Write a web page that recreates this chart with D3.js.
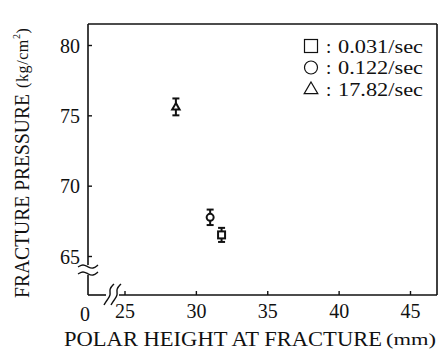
<!DOCTYPE html>
<html>
<head>
<meta charset="utf-8">
<script src="https://cdn.jsdelivr.net/npm/d3@7"></script>
<style>
  body { margin: 0; background: #fff; }
  text { font-family: "Liberation Serif", "DejaVu Serif", serif; fill: #111; }
</style>
</head>
<body>
<div id="chart"></div>
<script>
// ── Data ──
const series = ["square", "circle", "triangle"];
const rates = ["0.031/sec", "0.122/sec", "17.82/sec"];
const polarHeight = [31.8, 31.0, 28.6];
const pressure = [66.5, 67.75, 75.6];
const pressureErr = [0.5, 0.55, 0.6];
const xTicks = [25, 30, 35, 40, 45];
const yTicks = [65, 70, 75, 80];

const width = 447, height = 357;
const frame = { left: 88, right: 437, top: 24, bottom: 295 };

const svg = d3.select("#chart").append("svg")
    .attr("width", width)
    .attr("height", height);

const x = d3.scaleLinear().domain([25, 45]).range([124.5, 410]);
const y = d3.scaleLinear().domain([65, 80]).range([256, 45]);

// ── Frame with axis breaks ──
const line = (x1, y1, x2, y2) => svg.append("line")
    .attr("x1", x1).attr("y1", y1).attr("x2", x2).attr("y2", y2)
    .attr("stroke", "#111").attr("stroke-width", 1.6);

line(frame.left, frame.top, frame.right, frame.top);
line(frame.right, frame.top, frame.right, frame.bottom);
line(frame.left, frame.top, frame.left, 265);
line(frame.left, 275, frame.left, frame.bottom);
line(frame.left, frame.bottom, 106, frame.bottom);
line(119, frame.bottom, frame.right, frame.bottom);

// break marks (wavy)
const wave = d3.line().curve(d3.curveBasis);
[266, 273].forEach(yy => {
    svg.append("path")
        .attr("d", wave([[78, yy + 1], [83, yy - 2], [88, yy + 1], [93, yy + 3], [98, yy - 1]]))
        .attr("fill", "none").attr("stroke", "#111").attr("stroke-width", 1.4);
});
[108, 115].forEach(xx => {
    svg.append("path")
        .attr("d", wave([[xx + 6, 284], [xx + 1, 289], [xx + 3, 295], [xx - 1, 300], [xx - 4, 305]]))
        .attr("fill", "none").attr("stroke", "#111").attr("stroke-width", 1.4);
});

// ── Axes (inward ticks) ──
const xAxis = svg.append("g")
    .attr("transform", `translate(0,${frame.bottom})`)
    .call(d3.axisBottom(x).tickValues(xTicks).tickSize(-4).tickPadding(9));
const yAxis = svg.append("g")
    .attr("transform", `translate(${frame.left},0)`)
    .call(d3.axisLeft(y).tickValues(yTicks).tickSize(-4).tickPadding(8));

[xAxis, yAxis].forEach(g => {
    g.select(".domain").remove();
    g.selectAll(".tick line").attr("stroke", "#111").attr("stroke-width", 1.4);
    g.selectAll(".tick text")
        .attr("font-size", 20)
        .attr("font-family", "Liberation Serif, serif")
        .attr("fill", "#111");
});
yAxis.selectAll(".tick text").attr("dy", "0.35em");

svg.append("text")
    .attr("x", 85).attr("y", 321)
    .attr("text-anchor", "middle")
    .attr("font-size", 20)
    .text("0");

// ── Axis titles ──
svg.append("text")
    .attr("x", 64).attr("y", 346)
    .attr("font-size", 20)
    .attr("textLength", 318).attr("lengthAdjust", "spacingAndGlyphs")
    .text("POLAR HEIGHT AT FRACTURE");
svg.append("text")
    .attr("x", 386).attr("y", 345)
    .attr("font-size", 17)
    .attr("textLength", 50).attr("lengthAdjust", "spacingAndGlyphs")
    .text("(mm)");

svg.append("text")
    .attr("transform", "translate(29,298) rotate(-90)")
    .attr("font-size", 20)
    .attr("textLength", 204).attr("lengthAdjust", "spacingAndGlyphs")
    .text("FRACTURE PRESSURE");
const yt = svg.append("text")
    .attr("transform", "translate(28,88) rotate(-90)")
    .attr("font-size", 16)
    .attr("letter-spacing", 0.6)
    .text("(kg/cm");
yt.append("tspan").attr("font-size", 10).attr("dy", -8).text("2");
yt.append("tspan").attr("font-size", 16).attr("dy", 8).text(")");

// ── Markers ──
function marker(g, kind, cx, cy, r) {
    if (kind === "square") {
        g.append("rect").attr("x", cx - r).attr("y", cy - r)
            .attr("width", 2 * r).attr("height", 2 * r);
    } else if (kind === "circle") {
        g.append("circle").attr("cx", cx).attr("cy", cy).attr("r", r);
    } else {
        const h = r * 1.8;
        g.append("path").attr("d",
            `M${cx},${cy - h * 0.6}L${cx + r * 1.05},${cy + h * 0.4}L${cx - r * 1.05},${cy + h * 0.4}Z`);
    }
}

const pts = svg.append("g");
series.forEach((s, i) => {
    const cx = x(polarHeight[i]);
    const cy = y(pressure[i]);
    const y0 = y(pressure[i] - pressureErr[i]);
    const y1 = y(pressure[i] + pressureErr[i]);
    const g = pts.append("g")
        .attr("fill", "#fff").attr("stroke", "#111").attr("stroke-width", 2);
    g.append("line").attr("x1", cx).attr("x2", cx).attr("y1", y0).attr("y2", y1);
    [y0, y1].forEach(yy => g.append("line")
        .attr("x1", cx - 3.5).attr("x2", cx + 3.5).attr("y1", yy).attr("y2", yy));
    marker(g, s, cx, cy, 3.5);
});

// ── Legend ──
const legend = svg.append("g");
series.forEach((s, i) => {
    const ly = 46 + i * 21.5;
    const g = legend.append("g")
        .attr("fill", "none").attr("stroke", "#111").attr("stroke-width", 1.2);
    marker(g, s, 311, ly, 6.5);
    legend.append("text")
        .attr("x", 326).attr("y", ly).attr("dy", "0.35em")
        .attr("font-size", 19)
        .text(":");
    legend.append("text")
        .attr("x", 338).attr("y", ly).attr("dy", "0.35em")
        .attr("font-size", 19)
        .attr("textLength", 85).attr("lengthAdjust", "spacingAndGlyphs")
        .text(rates[i]);
});
</script>
</body>
</html>
